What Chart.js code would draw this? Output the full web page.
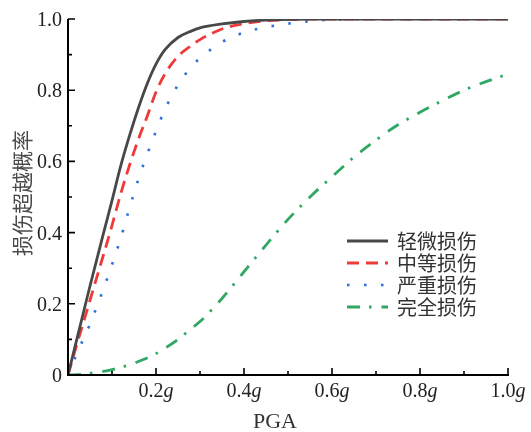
<!DOCTYPE html>
<html><head><meta charset="utf-8">
<script src="https://cdn.jsdelivr.net/npm/chart.js@4.4.1/dist/chart.umd.min.js"></script>
<style>html,body{margin:0;padding:0;background:#fff;}</style>
</head><body>
<canvas id="c" width="531" height="432"></canvas>
<script>
// ---- data ----
const pga      = [0,0.02,0.05,0.08,0.1,0.12,0.14,0.16,0.18,0.2,0.22,0.25,0.28,0.3,0.35,0.4,0.45,0.5,0.55,0.6,0.65,0.7,0.75,0.8,0.85,0.9,0.95,1.0];
const slight   = [0,0.10,0.25,0.395,0.49,0.588,0.673,0.75,0.818,0.873,0.913,0.948,0.966,0.975,0.986,0.993,0.997,0.999,1,1,1,1,1,1,1,1,1,1];
const moderate = [0,0.085,0.21,0.335,0.42,0.51,0.59,0.662,0.727,0.795,0.845,0.895,0.925,0.942,0.972,0.987,0.995,0.998,1,1,1,1,1,1,1,1,1,1];
const severe   = [0,0.06,0.143,0.24,0.31,0.385,0.47,0.55,0.62,0.685,0.745,0.815,0.865,0.89,0.935,0.962,0.977,0.987,0.994,0.998,0.999,1,1,1,1,1,1,1];
const complete = [0,0.001,0.005,0.01,0.015,0.022,0.028,0.038,0.048,0.06,0.075,0.10,0.13,0.15,0.215,0.29,0.365,0.437,0.50,0.557,0.612,0.66,0.703,0.738,0.77,0.80,0.824,0.845];
const seriesNames = ['轻微损伤','中等损伤','严重损伤','完全损伤'];
const yTickValues = [0,0.2,0.4,0.6,0.8,1.0];
const yTickLabels = ['0','0.2','0.4','0.6','0.8','1.0'];
const xTickValues = [0.2,0.4,0.6,0.8,1.0];
const xTickLabels = ['0.2','0.4','0.6','0.8','1.0'];
const xTickUnit = 'g';
const xTitle = 'PGA';
const yTitle = '损伤超越概率';

const toPts = arr => pga.map((x,i)=>({x:x,y:arr[i]}));
const serif = '"Liberation Serif","DejaVu Serif",serif';
const cjk = '"Noto Sans CJK SC","Noto Sans",sans-serif';

const axesPlugin = {
  id:'axesPlugin',
  afterDraw(chart){
    const ctx = chart.ctx, a = chart.chartArea;
    const xs = chart.scales.x, ys = chart.scales.y;
    ctx.save();
    ctx.strokeStyle = '#000'; ctx.lineWidth = 2; ctx.lineCap = 'butt';
    ctx.beginPath();
    ctx.moveTo(a.left, a.top); ctx.lineTo(a.left, a.bottom+1);
    ctx.moveTo(a.left-1, a.bottom); ctx.lineTo(a.right+1, a.bottom);
    ctx.stroke();
    // ticks (inward)
    ctx.lineWidth = 1.6;
    ctx.beginPath();
    for (let k=1;k<=10;k++){
      const v = k/10, major = (k%2===0);
      const L = major?7:4;
      const py = ys.getPixelForValue(v);
      ctx.moveTo(a.left, py); ctx.lineTo(a.left+L, py);
      const px = xs.getPixelForValue(v);
      ctx.moveTo(px, a.bottom); ctx.lineTo(px, a.bottom-L);
    }
    ctx.stroke();
    // y tick labels
    ctx.fillStyle = '#222';
    ctx.font = '20px '+serif;
    ctx.textAlign = 'right'; ctx.textBaseline = 'alphabetic';
    yTickValues.forEach((v,i)=>{
      ctx.fillText(yTickLabels[i], a.left-6, ys.getPixelForValue(v)+7);
    });
    // x tick labels with italic g
    xTickValues.forEach((v,i)=>{
      ctx.font = '20px '+serif;
      const w1 = ctx.measureText(xTickLabels[i]).width;
      ctx.font = 'italic 20px '+serif;
      const w2 = ctx.measureText(xTickUnit).width;
      const px = xs.getPixelForValue(v);
      const x0 = px - (w1+w2)/2;
      ctx.textAlign = 'left';
      ctx.font = '20px '+serif;
      ctx.fillText(xTickLabels[i], x0, 397);
      ctx.font = 'italic 20px '+serif;
      ctx.fillText(xTickUnit, x0+w1, 397);
    });
    // axis titles
    ctx.fillStyle = '#333';
    ctx.font = '22px '+serif;
    ctx.textAlign = 'center';
    ctx.fillText(xTitle, 275, 428);
    ctx.save();
    ctx.translate(22, 193);
    ctx.rotate(-Math.PI/2);
    ctx.font = '21px '+cjk;
    ctx.textBaseline = 'middle';
    ctx.fillStyle = '#4a4a4a';
    ctx.fillText(yTitle, 0, 0);
    ctx.restore();
    // legend
    chart.data.datasets.forEach((ds,i)=>{
      const yy = 241 + i*22;
      ctx.save();
      ctx.strokeStyle = ds.borderColor;
      ctx.lineWidth = ds.borderWidth;
      ctx.setLineDash(ds.borderDash || []);
      ctx.beginPath(); ctx.moveTo(347, yy); ctx.lineTo(388, yy); ctx.stroke();
      ctx.restore();
      ctx.fillStyle = '#333';
      ctx.font = '20px '+cjk;
      ctx.textAlign = 'left'; ctx.textBaseline = 'middle';
      ctx.fillText(ds.label, 397, yy);
    });
    ctx.restore();
  }
};

new Chart(document.getElementById('c'), {
  type:'line',
  data:{
    datasets:[
      {label:seriesNames[0], data:toPts(slight),   borderColor:'#484848', borderWidth:2.8, borderDash:[]},
      {label:seriesNames[1], data:toPts(moderate), borderColor:'#f03a3a', borderWidth:2.8, borderDash:[12,7]},
      {label:seriesNames[2], data:toPts(severe),   borderColor:'#2a6fdc', borderWidth:2.6, borderDash:[2.5,14.5]},
      {label:seriesNames[3], data:toPts(complete), borderColor:'#2ea862', borderWidth:2.8, borderDash:[13,9,2.5,10]}
    ]
  },
  options:{
    responsive:false, animation:false, devicePixelRatio:1,
    layout:{padding:{left:68, top:19, right:23, bottom:57}},
    elements:{point:{radius:0}, line:{cubicInterpolationMode:'monotone', fill:false}},
    plugins:{legend:{display:false}, tooltip:{enabled:false}},
    scales:{
      x:{type:'linear', min:0, max:1, display:false},
      y:{type:'linear', min:0, max:1, display:false}
    }
  },
  plugins:[axesPlugin]
});
</script>
</body></html>
